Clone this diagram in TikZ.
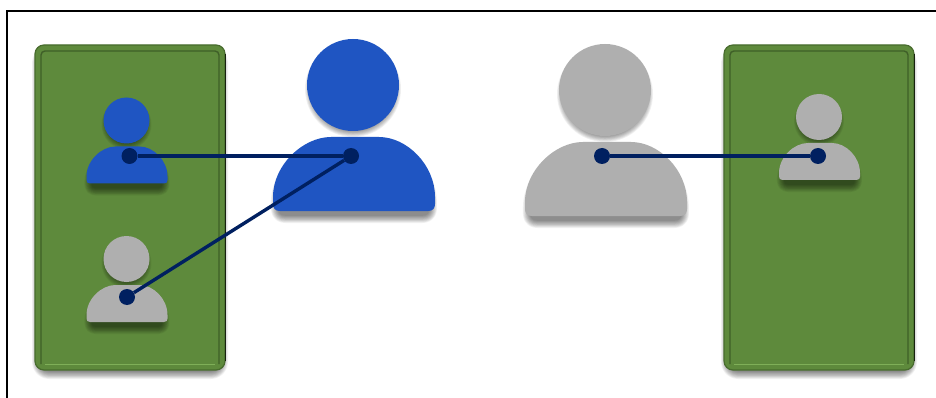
\documentclass[tikz,border=0pt]{standalone}
\definecolor{navy}{HTML}{002060}
\definecolor{pblue}{HTML}{1F55C2}
\definecolor{pgray}{HTML}{AFAFAF}
\definecolor{pgreen}{HTML}{5E8A3C}
\definecolor{gdark}{HTML}{3F5F28}
\definecolor{glight}{HTML}{7FAF58}
\newcommand{\softsh}[1]{% #1 = path
  \foreach \w in {1,...,10}{
    \begin{scope}[transparency group,opacity=0.055]
    \fill[black,draw=black,line width={\w*1.6pt},line join=round] #1;
    \end{scope}
  }}
\newcommand{\bodyshape}{(-73,126) .. controls (-78,126) and (-80,123) .. (-80,119) -- (-80,112) .. controls (-80,80) and (-50,52) .. (-22,52) -- (26,52) .. controls (54,52) and (82,80) .. (82,112) -- (82,119) .. controls (82,123) and (80,126) .. (75,126) -- cycle}
% #1 x of head, #2 y of head, #3 scale, #4 colour
\newcommand{\person}[4]{%
  \pgfmathsetmacro{\headsh}{46*#3-6}
  \pgfmathsetmacro{\kx}{(81*#3-6)/(81*#3)*#3}
  \pgfmathsetmacro{\ky}{(74*#3-7)/(74*#3)*#3}
  \pgfmathsetmacro{\by}{#2+126*#3+4}
  \softsh{(#1,#2+4) circle[radius=\headsh]}
  \begin{scope}[shift={(#1,\by)},xscale=\kx,yscale=\ky]
    \begin{scope}[shift={(0,-126)}]
      \softsh{\bodyshape}
    \end{scope}
  \end{scope}
  \begin{scope}[shift={(#1,#2)},scale=#3]
    \fill[#4] (0,0) circle[radius=46];
    \fill[#4] \bodyshape;
  \end{scope}}
% #1 left x, #2 right x
\newcommand{\panel}[2]{%
  \softsh{[rounded corners=9pt] (#1+5,54) rectangle (#2-5,371)}
  \fill[pgreen,draw=gdark!70!pgreen,line width=1.2pt,rounded corners=9pt] (#1,45) rectangle (#2,370);
  \draw[black!75!pgreen,line width=.8pt,rounded corners=9pt] (#2,54) -- (#2,361);
  \draw[gdark,line width=1.4pt,rounded corners=4pt] (#1+6,364) -- (#1+6,51) -- (#2-6,51) -- (#2-6,364);
  \draw[glight,line width=1pt] (#1+10,364) -- (#2-10,364);
}
\tikzset{
  dotnode/.style={circle,fill=navy,inner sep=0pt,minimum size=16pt},
  link/.style={draw=navy,line width=3.4pt}
}
\begin{document}
\begin{tikzpicture}[x=1pt,y=-1pt]
\useasboundingbox (0,0) rectangle (936,398);
\clip (0,0) rectangle (936,398);
\fill[white] (0,0) rectangle (936,398);
\draw[black,line width=2pt] (7,420) -- (7,11) -- (960,11);
\panel{35}{225}
\panel{724}{914}
\person{126.5}{120.5}{0.5}{pblue}
\person{126.5}{259}{0.5}{pgray}
\person{353}{85}{1}{pblue}
\person{605}{90}{1}{pgray}
\person{819}{117}{0.5}{pgray}
\node[dotnode] (a) at (129.5,156) {};
\node[dotnode] (b) at (127,297) {};
\node[dotnode] (c) at (351,156) {};
\node[dotnode] (d) at (602,156) {};
\node[dotnode] (e) at (818,156) {};
\draw[link] (a) -- (c);
\draw[link] (b) -- (c);
\draw[link] (d) -- (e);
\end{tikzpicture}
\end{document}
